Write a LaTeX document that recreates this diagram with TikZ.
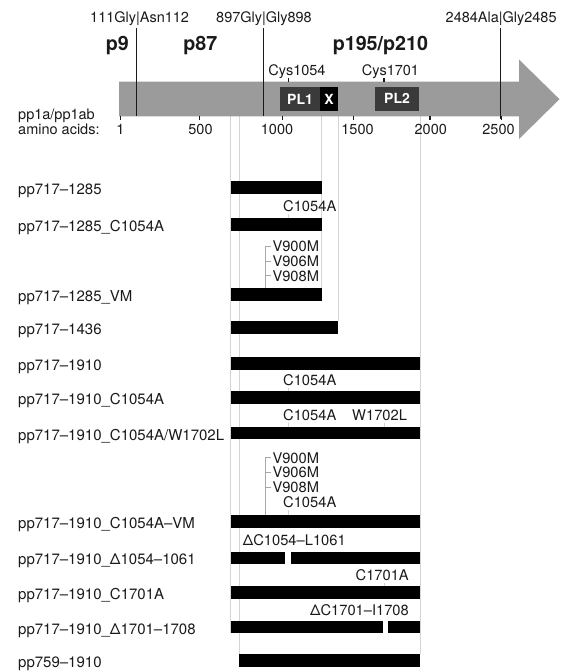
\documentclass[tikz,border=0pt]{standalone}
\usepackage{fontspec}
\setmainfont{TeX Gyre Heros}
\definecolor{arrowgray}{HTML}{9B9B9B}
\definecolor{boxgray}{HTML}{3A3A3A}
\definecolor{guide}{HTML}{D4D4D4}
\definecolor{brk}{HTML}{A8A8A8}
\definecolor{ink}{HTML}{1A1A1A}
\begin{document}
\begin{tikzpicture}[x=1pt,y=-1pt,
 lbl/.style={anchor=base west,inner sep=0pt,text=ink,font=\fontsize{15}{18}\selectfont},
 mut/.style={anchor=base west,inner sep=0pt,text=ink,font=\fontsize{14.7}{17}\selectfont},
 mutr/.style={mut,anchor=base east},
 num/.style={anchor=base,inner sep=0pt,text=ink,font=\fontsize{14.5}{17}\selectfont},
 site/.style={anchor=base west,inner sep=0pt,text=ink,font=\fontsize{14.5}{17}\selectfont},
 prot/.style={anchor=base,inner sep=0pt,text=ink,font=\fontsize{19.7}{22}\selectfont\bfseries},
 bar/.style={fill=black},
 guideline/.style={draw=guide,line width=0.7pt},
 cleave/.style={draw=ink,line width=1pt},
 tickmark/.style={draw=ink,line width=1.2pt},
 dom/.style={fill=boxgray,text=white,inner sep=0pt,font=\fontsize{14}{16}\selectfont\bfseries},
 brack/.style={draw=brk,line width=0.6pt},
 muttick/.style={draw=guide,line width=0.6pt}
]
\useasboundingbox (0,0) rectangle (563,672);

% ---------- guide lines ----------
\coordinate (g717t) at (230.7,116.3); \coordinate (g717b) at (230.7,633);
\coordinate (g759t) at (239.3,116.3); \coordinate (g759b) at (239.3,654.3);
\coordinate (g1285t) at (321.7,116.3); \coordinate (g1285b) at (321.7,287.7);
\coordinate (g1436t) at (338.3,116.3); \coordinate (g1436b) at (338.3,320.7);
\coordinate (g1910t) at (420,116.3); \coordinate (g1910b) at (420,654.3);
\draw[guideline] (g717t) -- (g717b);
\draw[guideline] (g759t) -- (g759b);
\draw[guideline] (g1285t) -- (g1285b);
\draw[guideline] (g1436t) -- (g1436b);
\draw[guideline] (g1910t) -- (g1910b);

% ---------- polyprotein arrow ----------
\fill[arrowgray] (119,81.7) -- (519,81.7) -- (519,59.5) -- (559.5,99.2) -- (519,139) -- (519,116.3) -- (119,116.3) -- cycle;

% domains
\node[dom,minimum width=40pt,minimum height=23.4pt] (pl1) at (300,99) {PL1};
\node[dom,fill=black,minimum width=18.3pt,minimum height=23.4pt] (xd) at (329.15,99) {X};
\node[dom,minimum width=44pt,minimum height=24pt] (pl2) at (397,98.7) {PL2};

% cleavage sites
\node[site] (s111) at (90,22.7) {111Gly|Asn112};
\node[site] (s897) at (216,22.7) {897Gly|Gly898};
\node[site] (s2484) at (445.5,22.7) {2484Ala|Gly2485};
\coordinate (c111t) at (136.7,28); \coordinate (c111b) at (136.7,116.3);
\coordinate (c897t) at (263.3,28); \coordinate (c897b) at (263.3,116.3);
\coordinate (c2484t) at (500,28); \coordinate (c2484b) at (500,118.5);
\draw[cleave] (c111t) -- (c111b);
\draw[cleave] (c897t) -- (c897b);
\draw[cleave] (c2484t) -- (c2484b);

% protein names
\node[prot] (p9) at (117.4,50.4) {p9};
\node[prot] (p87) at (200.4,50.4) {p87};
\node[prot] (p195) at (380.4,50.4) {p195/p210};

% catalytic cysteines
\node[num] (cys1) at (297,75.3) {Cys1054};
\node[num] (cys2) at (390.5,75.3) {Cys1701};
\draw[tickmark] (288.3,78.3) -- (288.3,81.7);
\draw[tickmark] (384,78.3) -- (384,81.7);

% axis
\foreach \x in {120.7,199.3,282.7,353.3,430,501.7}
  \draw[tickmark] (\x,116.3) -- (\x,119.5);
\node[num] (n1) at (120.5,134.7) {1};
\node[num] (n500) at (200.5,134.7) {500};
\node[num] (n1000) at (277,134.7) {1000};
\node[num] (n1500) at (357.5,134.7) {1500};
\node[num] (n2000) at (430.8,134.7) {2000};
\node[num] (n2500) at (498.5,134.7) {2500};
\node[site] (ax1) at (18,119.4) {pp1a/pp1ab};
\node[site] (ax2) at (18,134.7) {amino acids:};

% ---------- constructs ----------
\fill[bar] (230.7,181) rectangle (321.7,194);
\fill[bar] (230.7,217.7) rectangle (321.7,230.7);
\fill[bar] (230.7,287.7) rectangle (321.7,300.7);
\fill[bar] (230.7,320.7) rectangle (338.3,333.7);
\fill[bar] (230.7,356.7) rectangle (420,369.5);
\fill[bar] (230.7,391.3) rectangle (420,404);
\fill[bar] (230.7,426.7) rectangle (420,439.3);
\fill[bar] (230.7,515) rectangle (420,527.5);
\fill[bar] (230.7,551.5) rectangle (285.3,563.5);
\fill[bar] (290.7,551.5) rectangle (420,563.5);
\fill[bar] (230.7,586) rectangle (420,598.5);
\fill[bar] (230.7,621) rectangle (383.3,633);
\fill[bar] (387.7,621) rectangle (420,633);
\fill[bar] (239.3,654.3) rectangle (420,667.3);

\node[lbl] (l1) at (18,194.5) {pp717–1285};
\node[lbl] (l2) at (18,231.2) {pp717–1285\_C1054A};
\node[lbl] (l3) at (18,301.2) {pp717–1285\_VM};
\node[lbl] (l4) at (18,334.2) {pp717–1436};
\node[lbl] (l5) at (18,370.1) {pp717–1910};
\node[lbl] (l6) at (18,404.7) {pp717–1910\_C1054A};
\node[lbl] (l7) at (18,440) {pp717–1910\_C1054A/W1702L};
\node[lbl] (l8) at (18,528.2) {pp717–1910\_C1054A–VM};
\node[lbl] (l9) at (18,564.5) {pp717–1910\_Δ1054–1061};
\node[lbl] (l10) at (18,599.2) {pp717–1910\_C1701A};
\node[lbl] (l11) at (18,634) {pp717–1910\_Δ1701–1708};
\node[lbl] (l12) at (18,667.8) {pp759–1910};

% ---------- mutation labels ----------
\node[mut] (m1) at (283,211.4) {C1054A};
\draw[muttick] (288,213.5) -- (288,217.7);

\node[mut] (v1a) at (272.3,251.4) {V900M};
\node[mut] (v1b) at (272.3,266.2) {V906M};
\node[mut] (v1c) at (272.3,281.0) {V908M};
\draw[brack] (265,246) -- (265,287.7);
\draw[brack] (265,246) -- (270.5,246);
\draw[brack] (265,260.8) -- (270.5,260.8);
\draw[brack] (265,275.6) -- (270.5,275.6);

\node[mut] (m2) at (283,385.4) {C1054A};
\draw[muttick] (288,387.5) -- (288,391.3);

\node[mut] (m3a) at (283,420.4) {C1054A};
\node[mut] (m3b) at (352,420.4) {W1702L};
\draw[muttick] (288,422.5) -- (288,426.7);
\draw[muttick] (384,422.5) -- (384,426.7);

\node[mut] (v2a) at (272.3,463) {V900M};
\node[mut] (v2b) at (272.3,477.7) {V906M};
\node[mut] (v2c) at (272.3,492.7) {V908M};
\node[mut] (m4) at (283,507.4) {C1054A};
\draw[brack] (265,457.7) -- (265,515);
\draw[brack] (265,457.7) -- (270.5,457.7);
\draw[brack] (265,472.3) -- (270.5,472.3);
\draw[brack] (265,487.3) -- (270.5,487.3);
\draw[muttick] (288,509.5) -- (288,515);

\node[mut] (m5) at (242.7,545.4) {ΔC1054–L1061};
\node[mutr] (m6) at (409,580.4) {C1701A};
\draw[muttick] (384,582.5) -- (384,586);
\node[mutr] (m7) at (409,615.4) {ΔC1701–I1708};
\end{tikzpicture}
\end{document}
